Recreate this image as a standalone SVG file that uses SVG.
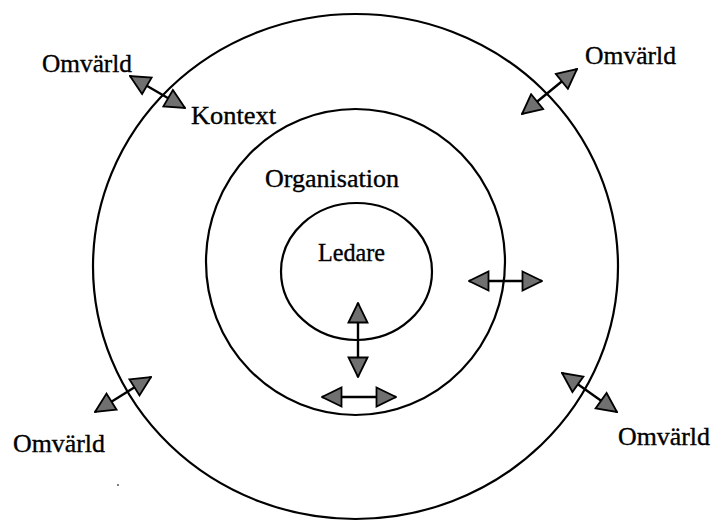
<svg xmlns="http://www.w3.org/2000/svg" width="713" height="521" viewBox="0 0 713 521">
<style>
.ring{fill:none;stroke:#000;stroke-width:2.2}
.lbl{font-family:"Liberation Serif","Times New Roman",serif;font-size:25px;fill:#000;stroke:#000;stroke-width:0.35}
.conn{stroke:#000;stroke-width:2.4;fill:none;marker-start:url(#head);marker-end:url(#head)}
</style>
<defs>
<marker id="head" viewBox="0 0 22 22" refX="21" refY="11" markerWidth="22" markerHeight="22" markerUnits="userSpaceOnUse" orient="auto-start-reverse">
<path d="M1.5,1.5 L21,11 L1.5,20.5 Z" fill="#707070" stroke="#000" stroke-width="1.8" stroke-linejoin="miter"/>
</marker>
</defs>
<rect width="713" height="521" fill="#fff"/>
<g id="omvarld-ring">
<ellipse class="ring" cx="355.5" cy="266.5" rx="262.5" ry="252.5"/>
<text class="lbl" x="191" y="124" textLength="85" lengthAdjust="spacingAndGlyphs">Kontext</text>
</g>
<g id="organisation">
<ellipse class="ring" cx="355.5" cy="262" rx="149.5" ry="153"/>
<text class="lbl" x="265" y="187" textLength="134" lengthAdjust="spacingAndGlyphs">Organisation</text>
</g>
<g id="ledare">
<ellipse class="ring" cx="356.5" cy="271.5" rx="75.5" ry="68.5"/>
<text class="lbl" x="318" y="261" textLength="67" lengthAdjust="spacingAndGlyphs">Ledare</text>
</g>
<g id="omvarld-tl"><text class="lbl" x="42" y="72" textLength="90" lengthAdjust="spacingAndGlyphs">Omvärld</text></g>
<g id="omvarld-tr"><text class="lbl" x="585" y="64" textLength="91" lengthAdjust="spacingAndGlyphs">Omvärld</text></g>
<g id="omvarld-bl"><text class="lbl" x="13" y="452" textLength="92" lengthAdjust="spacingAndGlyphs">Omvärld</text></g>
<g id="omvarld-br"><text class="lbl" x="618" y="445" textLength="92" lengthAdjust="spacingAndGlyphs">Omvärld</text></g>
<g id="connectors">
<line class="conn" x1="130" y1="76" x2="185" y2="108"/>
<line class="conn" x1="577" y1="69" x2="522" y2="114"/>
<line class="conn" x1="151" y1="377" x2="95" y2="412"/>
<line class="conn" x1="562" y1="373" x2="617" y2="412"/>
<line class="conn" x1="469" y1="281" x2="542" y2="281"/>
<line class="conn" x1="358" y1="303" x2="358" y2="377"/>
<line class="conn" x1="322" y1="397" x2="396" y2="397"/>
</g>
<circle cx="118" cy="485" r="0.9" fill="#444"/>
</svg>
